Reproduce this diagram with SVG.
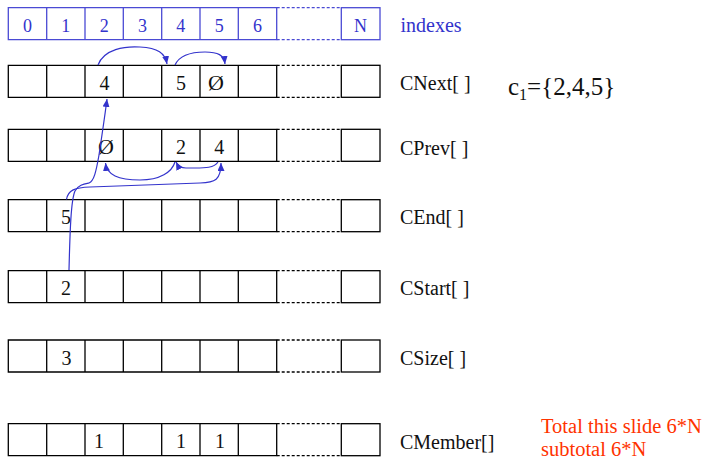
<svg xmlns="http://www.w3.org/2000/svg" width="711" height="460" viewBox="0 0 711 460" font-family="'Liberation Serif', 'Times New Roman', serif">
<style>
text{font-family:'Liberation Serif','Times New Roman',serif}
.row{fill:none;stroke-width:1.3}
.blk{stroke:#000}
.blu{stroke:#4a4ad4}
.dash{stroke-dasharray:3,2}
.idx{fill:#3333cc;font-size:18px;text-anchor:middle}
.val{fill:#111;font-size:20px;text-anchor:middle}
.nul{fill:#111;font-size:22px;text-anchor:middle}
.lbl{fill:#111;font-size:20px}
.red{fill:#ff3300;font-size:20.5px}
.arr{fill:none;stroke:#3333cc;stroke-width:1.2;marker-end:url(#ah)}
</style>
<defs>
<marker id="ah" markerWidth="8" markerHeight="7" refX="8" refY="3.5" orient="auto" markerUnits="userSpaceOnUse"><path d="M0,0 L8,3.5 L0,7 Z" fill="#3333cc"/></marker>
<g id="cells">
<path d="M8.3,0 H276.7 V32 H8.3 Z M46.7,0 V32 M85,0 V32 M123.3,0 V32 M161.7,0 V32 M200,0 V32 M238.3,0 V32"/>
<rect x="341.3" y="0" width="38.7" height="32"/>
<path class="dash" d="M276.7,0 H341.3 M276.7,32 H341.3"/>
</g>
</defs>
<rect width="711" height="460" fill="#fff"/>

<g id="indexes">
<use href="#cells" class="row blu" transform="translate(0,7.7)"/>
<text class="idx" x="27.5" y="32">0</text>
<text class="idx" x="65.8" y="32">1</text>
<text class="idx" x="104.2" y="32">2</text>
<text class="idx" x="142.5" y="32">3</text>
<text class="idx" x="180.8" y="32">4</text>
<text class="idx" x="219.2" y="32">5</text>
<text class="idx" x="257.5" y="32">6</text>
<text class="idx" x="360.6" y="32">N</text>
<text x="400.5" y="31.5" fill="#3333cc" font-size="20">indexes</text>
</g>

<g id="cnext">
<use href="#cells" class="row blk" transform="translate(0,65.3)"/>
<text class="val" x="104.4" y="90">4</text>
<text class="val" x="181" y="90">5</text>
<text class="nul" x="216" y="90">Ø</text>
<text class="lbl" x="400" y="90">CNext[ ]</text>
</g>

<g id="set">
<text x="508" y="95" fill="#111" font-size="25">c<tspan font-size="16" dy="5">1</tspan><tspan dy="-5">={2,4,5}</tspan></text>
</g>

<g id="cprev">
<use href="#cells" class="row blk" transform="translate(0,129.3)"/>
<text class="nul" x="106" y="154">Ø</text>
<text class="val" x="181" y="154">2</text>
<text class="val" x="219.2" y="154">4</text>
<text class="lbl" x="400" y="155">CPrev[ ]</text>
</g>

<g id="cend">
<use href="#cells" class="row blk" transform="translate(0,199.7)"/>
<text class="val" x="66" y="224">5</text>
<text class="lbl" x="400" y="224">CEnd[ ]</text>
</g>

<g id="cstart">
<use href="#cells" class="row blk" transform="translate(0,270.7)"/>
<text class="val" x="66" y="295">2</text>
<text class="lbl" x="400" y="295">CStart[ ]</text>
</g>

<g id="csize">
<use href="#cells" class="row blk" transform="translate(0,340)"/>
<text class="val" x="66.5" y="364.5">3</text>
<text class="lbl" x="400" y="365">CSize[ ]</text>
</g>

<g id="cmember">
<use href="#cells" class="row blk" transform="translate(0,423.7)"/>
<text class="val" x="99" y="448">1</text>
<text class="val" x="181" y="448">1</text>
<text class="val" x="220" y="448">1</text>
<text class="lbl" x="400" y="448.5">CMember[]</text>
</g>

<g id="totals">
<text class="red" x="541" y="433">Total this slide 6*N</text>
<text class="red" x="541" y="455.5">subtotal 6*N</text>
</g>

<g id="connectors">
<path class="arr" d="M98,65 C104,49 125,46 140,47 C158,48 165,53 167,64"/>
<path class="arr" d="M175,65 C180,54 195,52 205,52 C218,52 224,55 225,64"/>
<path class="arr" d="M69,270 C70,230 71,200 75,191 C78,185 84,184 89,183 C94,181 96,172 99,155 C102,135 105,115 107,99"/>
<path class="arr" d="M66.5,199.5 C68,190 75,187.5 90,187 L200,183 C215,182.5 221,180 221,163"/>
<path class="arr" d="M175,162 C172,172 160,180 140,180 C118,180 107,175 105.5,163"/>
<path class="arr" d="M218,162 C214,168 205,168 195,168 L186,168 C181,168 178,166 176,162"/>
</g>
</svg>
